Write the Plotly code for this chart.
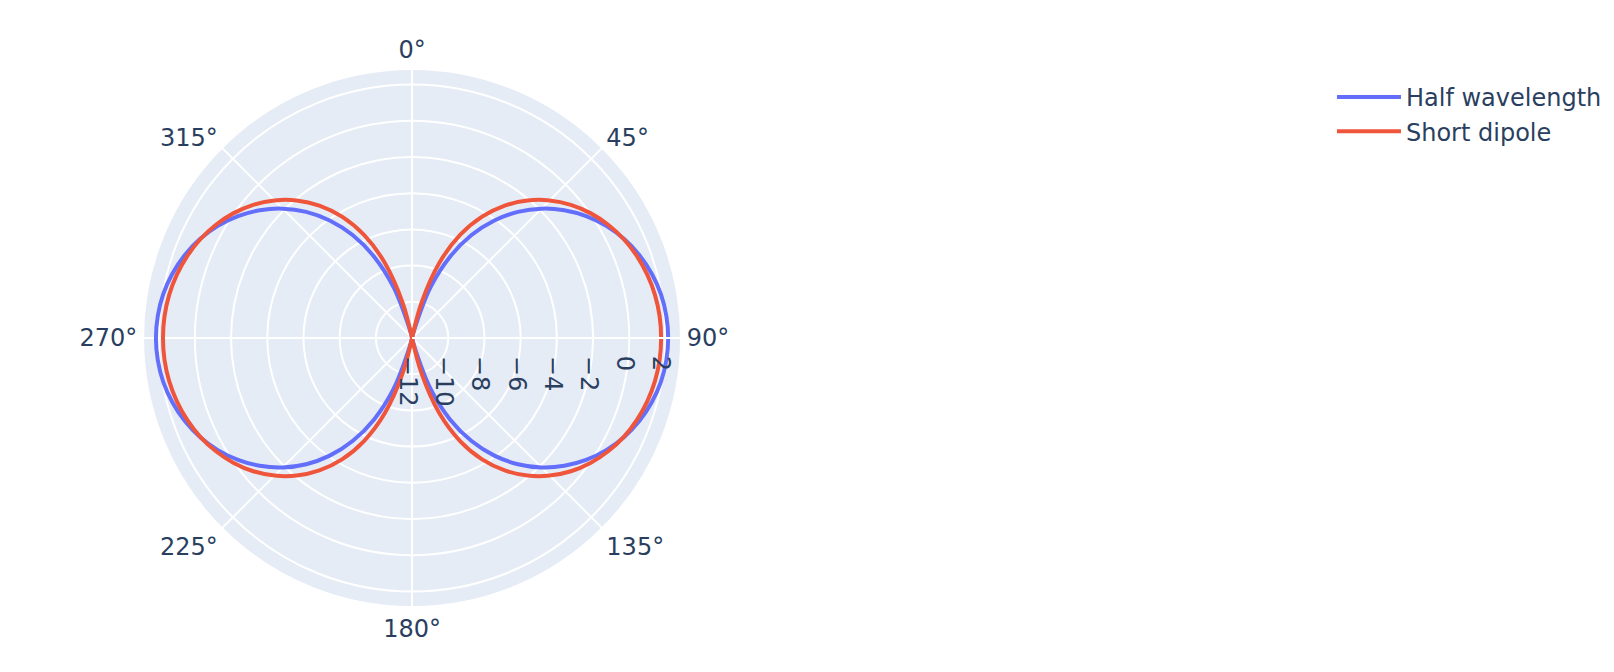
import plotly.graph_objects as go

# Angles in degrees (0 = top, clockwise)
theta = list(range(0, 361, 5))

# Gain in dB (centre of the plot is -12 dB)
half_wavelength = [
    -12, -12, -12, -11.54, -9.01, -7.04, -5.43, -4.07, -2.90, -1.89,
    -1.02, -0.26, 0.39, 0.93, 1.37, 1.71, 1.96, 2.10, 2.15,
    2.10, 1.96, 1.71, 1.37, 0.93, 0.39, -0.26, -1.02, -1.89,
    -2.90, -4.07, -5.43, -7.04, -9.01, -11.54, -12, -12, -12,
    -12, -12, -11.54, -9.01, -7.04, -5.43, -4.07, -2.90, -1.89,
    -1.02, -0.26, 0.39, 0.93, 1.37, 1.71, 1.96, 2.10, 2.15,
    2.10, 1.96, 1.71, 1.37, 0.93, 0.39, -0.26, -1.02, -1.89,
    -2.90, -4.07, -5.43, -7.04, -9.01, -11.54, -12, -12, -12,
]
short_dipole = [
    -12, -12, -12, -9.98, -7.56, -5.72, -4.26, -3.07, -2.08, -1.25,
    -0.55, 0.03, 0.51, 0.91, 1.22, 1.46, 1.63, 1.73, 1.76,
    1.73, 1.63, 1.46, 1.22, 0.91, 0.51, 0.03, -0.55, -1.25,
    -2.08, -3.07, -4.26, -5.72, -7.56, -9.98, -12, -12, -12,
    -12, -12, -9.98, -7.56, -5.72, -4.26, -3.07, -2.08, -1.25,
    -0.55, 0.03, 0.51, 0.91, 1.22, 1.46, 1.63, 1.73, 1.76,
    1.73, 1.63, 1.46, 1.22, 0.91, 0.51, 0.03, -0.55, -1.25,
    -2.08, -3.07, -4.26, -5.72, -7.56, -9.98, -12, -12, -12,
]

fig = go.Figure()
fig.add_trace(go.Scatterpolar(r=half_wavelength, theta=theta, mode='lines',
                              name='Half wavelength',
                              line=dict(color='#636efa', width=4, shape='spline')))
fig.add_trace(go.Scatterpolar(r=short_dipole, theta=theta, mode='lines',
                              name='Short dipole',
                              line=dict(color='#EF553B', width=4, shape='spline')))

fig.update_layout(
    width=1614, height=672,
    margin=dict(l=0, r=0, t=0, b=0),
    font=dict(family='DejaVu Sans', size=24),
    polar=dict(
        domain=dict(x=[0.0837, 0.4170], y=[0.1086, 0.9092]),
        angularaxis=dict(rotation=90, direction='clockwise', gridwidth=2, linewidth=2),
        radialaxis=dict(range=[-12, 2.86], gridwidth=2, linewidth=2),
    ),
    legend=dict(x=0.8203, y=0.9004, yanchor='top', itemwidth=64),
)

fig.write_html("out.html")
